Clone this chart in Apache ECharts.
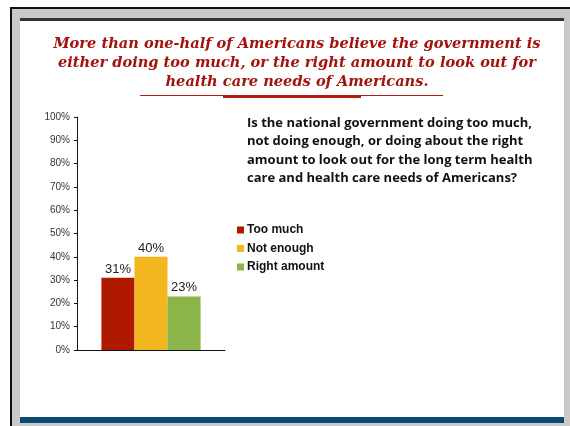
<!DOCTYPE html>
<html>
<head>
<meta charset="utf-8">
<script src="https://cdn.jsdelivr.net/npm/echarts@6/dist/echarts.min.js"></script>
<style>
  html, body { margin: 0; padding: 0; background: #fff; }
  #chart { width: 570px; height: 426px; }
</style>
</head>
<body>
<div id="chart"></div>
<script>
// Survey answers and their shares (percent)
const categories = ['Too much', 'Not enough', 'Right amount'];
const shares = [31, 40, 23];
const colors = ['#AE1900', '#F2B71F', '#8BB548'];
const yTicks = { min: 0, max: 100, interval: 10 };

const headline = 'More than one-half of Americans believe the government is\neither doing too much, or the right amount to look out for\nhealth care needs of Americans.';
const question = 'Is the national government doing too much,\nnot doing enough, or doing about the right\namount to look out for the long term health\ncare and health care needs of Americans?';

const chart = echarts.init(document.getElementById('chart'), null, { renderer: 'canvas' });

const series = categories.map((name, i) => ({
  name: name,
  type: 'bar',
  data: [shares[i]],
  barGap: '0%',
  barCategoryGap: '33%',
  itemStyle: { color: colors[i] },
  label: {
    show: true,
    position: 'top',
    distance: 2,
    formatter: '{c}%',
    color: '#222',
    fontFamily: 'Liberation Sans, Arial, sans-serif',
    fontSize: 13
  }
}));

chart.setOption({
  backgroundColor: '#fff',
  animation: false,
  graphic: [
    // slide frame
    { type: 'rect', z: -10, shape: { x: 10, y: 7, width: 560, height: 419 }, style: { fill: '#111' } },
    { type: 'rect', z: -9, shape: { x: 12, y: 9, width: 558, height: 417 }, style: { fill: '#C9C9C9' } },
    { type: 'rect', z: -8, shape: { x: 20, y: 18, width: 544, height: 405 }, style: { fill: '#fff' } },
    { type: 'rect', z: -7, shape: { x: 20, y: 18, width: 544, height: 3 }, style: { fill: '#333' } },
    { type: 'rect', z: -7, shape: { x: 20, y: 417, width: 544, height: 6 }, style: { fill: '#0B4872' } },
    // headline underline
    { type: 'rect', shape: { x: 140, y: 95, width: 303, height: 1 }, style: { fill: '#B01E10' } },
    { type: 'rect', shape: { x: 223, y: 95, width: 138, height: 3 }, style: { fill: '#B01E10' } },
    // question text
    {
      type: 'text', left: 247, top: 114,
      style: {
        text: question,
        fill: '#111',
        font: 'bold 13px "Open Sans", Lato, sans-serif',
        lineHeight: 18.4
      }
    }
  ],
  title: {
    text: headline,
    left: 292,
    top: 30,
    textAlign: 'center',
    textStyle: {
      color: '#A3130C',
      fontFamily: '"DejaVu Serif", serif',
      fontStyle: 'italic',
      fontWeight: 'bold',
      fontSize: 14.6,
      lineHeight: 19
    }
  },
  legend: {
    data: categories,
    orient: 'vertical',
    left: 232,
    top: 219,
    icon: 'rect',
    itemWidth: 7,
    itemHeight: 7,
    itemGap: 6.5,
    textStyle: {
      color: '#111',
      fontWeight: 'bold',
      fontSize: 12,
      fontFamily: 'Liberation Sans, Arial, sans-serif',
      padding: [0, 0, 0, -2]
    }
  },
  grid: { left: 77, right: 345, top: 117, bottom: 76, containLabel: false },
  xAxis: {
    type: 'category',
    data: [''],
    axisLine: { lineStyle: { color: '#111', width: 1 } },
    axisTick: { show: false },
    axisLabel: { show: false }
  },
  yAxis: {
    type: 'value',
    min: yTicks.min,
    max: yTicks.max,
    interval: yTicks.interval,
    axisLine: { show: true, lineStyle: { color: '#111', width: 1 } },
    axisTick: { show: true, length: 3, inside: false, lineStyle: { color: '#111' } },
    splitLine: { show: false },
    axisLabel: {
      formatter: '{value}%',
      color: '#333',
      fontSize: 10,
      margin: 7,
      fontFamily: 'Liberation Sans, Arial, sans-serif'
    }
  },
  series: series
});
</script>
</body>
</html>
